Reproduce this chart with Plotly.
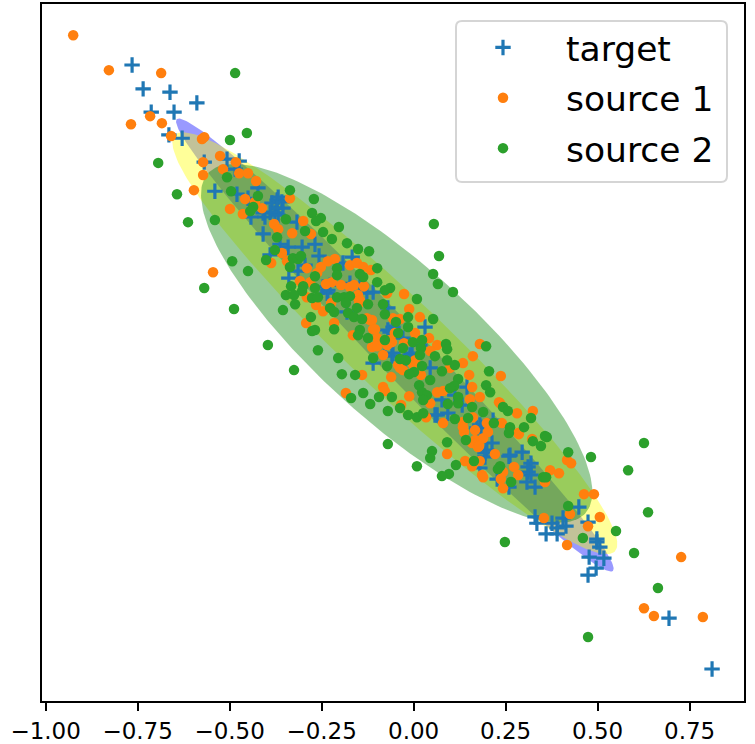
import numpy as np
import plotly.graph_objects as go

target_x = [-.765, -.735, -.662, -.589, -.713, -.651, -.665, -.629, -.569, -.507, -.474, -.485, -.423, -.540, -.480,
            -.450, -.442, -.404, -.409, -.385, -.371, -.377, -.368, -.358, -.371, -.368, -.355, -.409, -.390, -.317,
            -.363, -.341, -.303, -.268, -.257, -.390, -.314, -.339, -.192, -.167, -.235, -.110, -.181, -.246, -.127,
            -.173, .031, -.056, -.064, -.029, -.004, -.110, -.059, .045, .145, .077, .064, .093, .172, .213,
            .262, .194, .216, .180, .058, .199, .194, .259, .295, .319, .311, .319, .308, .330, .227,
            .259, .180, .449, .330, .335, .376, .406, .414, .390, .360, .390, .474, .498, .506, .477,
            .517, .496, .474, .498, .694, .811, .183, .311, -.146, -.023, .112, .132, .017, -.078, -.295,
            -.227, -.070, -.070, -.056, -.010, -.233]
target_y = [.780, .715, .706, .677, .652, .652, .590, .581, .516, .524, .519, .497, .446, .437, .429,
            .418, .367, .367, .321, .405, .413, .378, .421, .408, .391, .372, .391, .378, .380, .353,
            .293, .285, .285, .293, .261, .264, .220, .201, .242, .258, .160, .163, .109, .177, .160,
            .187, .068, .068, .054, .038, -.003, -.030, -.011, -.043, -.095, -.130, -.171, -.166, -.206, -.247,
            -.280, -.274, -.185, -.198, -.171, -.266, -.285, -.283, -.272, -.302, -.326, -.334, -.353, -.367, -.345,
            -.367, -.315, -.421, -.448, -.465, -.465, -.451, -.473, -.478, -.494, -.494, -.462, -.516, -.530, -.557,
            -.560, -.587, -.606, -.508, -.723, -.861, -.204, -.312, .182, -.022, -.117, -.144, .019, .019, .236,
            .182, .120, .060, -.003, -.008, .168]

source1_x = [-.925, -.828, -.686, -.768, -.716, -.684, -.659, -.575, -.569, -.526, -.572, -.483, -.518, -.474, -.450,
             -.572, -.428, -.597, -.458, -.499, -.464, -.431, -.412, -.379, -.368, -.336, -.300, -.330, -.279, -.358,
             -.344, -.387, -.545, -.290, -.252, -.233, -.214, -.262, -.309, -.281, -.238, -.222, -.197, -.173, -.162,
             -.135, -.173, -.154, -.137, -.116, -.290, -.265, -.246, -.224, -.292, -.216, -.165, -.110, -.113, -.151,
             -.148, -.113, -.097, -.127, -.026, -.012, .017, -.072, .004, .042, .064, .045, .180, .161, .134,
             .151, .237, .159, .180, .153, .232, .281, .099, .064, .080, -.061, -.083, -.078, -.012, -.140,
             -.184, -.034, .045, .034, .080, .161, .134, .137, .167, .167, .189, .159, .091, .221, .175,
             .240, .284, -.099, -.099, -.083, -.059, -.072, -.042, -.029, -.002, .020, -.118, -.105, -.151, -.146,
             .324, .286, .322, .417, .428, .371, .395, .357, .463, .490, .425, .354, .506, .474, .417,
             .140, .159, .186, .189, .180, .134, .202, .199, .237, .243, .273, .284, .243, .235, .178,
             .727, .786, .626, .653, -.056, -.037, -.064, -.026, .004, -.037, -.051]
source1_y = [.861, .766, .758, .619, .641, .622, .587, .579, .584, .533, .516, .516, .497, .486, .486,
             .481, .465, .440, .416, .389, .375, .408, .391, .348, .334, .418, .356, .323, .321, .269,
             .247, .242, .217, .228, .231, .247, .253, .215, .193, .190, .185, .190, .182, .177, .182,
             .179, .236, .242, .231, .223, .149, .128, .111, .133, .079, .079, .046, .062, .087, .147,
             .133, .014, .024, .092, .158, .117, .095, .160, .052, .038, .019, .003, .022, -.011, -.030,
             -.062, -.065, -.095, -.122, -.128, -.136, -.166, -.043, -.109, -.106, -.068, -.095, -.106, -.120, -.062,
             -.111, -.144, -.139, -.177, -.193, -.177, -.190, -.217, -.212, -.239, -.234, -.247, -.277, -.277, -.258,
             -.193, -.220, .038, .016, -.008, .027, .019, -.035, -.049, -.033, -.062, .087, .062, .155, .141,
             -.160, -.223, -.236, -.293, -.302, -.321, -.329, -.353, -.386, -.386, -.440, -.451, -.448, -.473, -.524,
             -.296, -.310, -.334, -.340, -.296, -.204, -.217, -.193, -.345, -.370, -.312, -.334, -.326, -.139, -.255,
             -.557, -.720, -.696, -.717, .092, .090, .033, .024, -.022, -.043, .052]

source2_x = [-.485, -.453, -.499, -.694, -.507, -.643, -.496, -.423, -.436, -.444, -.613, -.540, -.371, -.336, -.271,
             -.276, -.252, -.265, -.203, -.347, -.295, -.246, -.222, -.181, -.151, -.121, -.377, -.401, -.493, -.450,
             -.569, -.488, -.396, -.355, -.336, -.328, -.314, -.306, -.268, -.208, -.208, -.333, -.300, -.303, -.347,
             -.325, -.322, -.268, -.276, -.260, -.227, -.216, -.279, -.276, -.268, -.216, -.208, -.189, -.173, -.184,
             -.154, -.124, -.146, -.137, -.099, -.099, -.178, -.162, -.140, -.146, -.151, -.124, -.260, .066, .107,
             .009, .053, -.064, -.078, -.083, -.078, -.015, -.015, -.048, -.042, -.078, -.029, -.002, .023, .020,
             .017, .088, .091, .058, .091, .112, .197, .205, .197, .208, -.110, -.072, -.037, -.021, .023,
             .001, -.012, .077, .045, .015, .023, .036, .026, .121, .110, .099, .121, .093, .121, .159,
             -.159, -.195, -.137, -.170, -.094, -.059, -.118, -.070, -.037, -.015, .009, .026, .112, .148, .189,
             .243, .256, .218, .262, .259, .142, .091, .050, -.070, .045, .319, .300, .357, .362, .324,
             .346, .420, .482, .583, .164, .115, .096, .077, .235, .229, .265, .352, .360, .420, .248,
             .460, .550, .599, .626, .637, .664, .474, -.325, -.205, .009, .055, .069, .053]
source2_y = [.758, .595, .576, .514, .475, .429, .437, .424, .394, .383, .353, .359, .312, .440, .416,
             .378, .364, .356, .340, .361, .329, .326, .307, .296, .280, .274, .277, .250, .247, .220,
             .174, .117, .019, .114, .231, .255, .253, .261, .206, .228, .209, .179, .179, .166, .155,
             .155, .130, .174, .147, .149, .120, .109, .095, .057, .060, .062, .149, .149, .152, .133,
             .120, .130, .212, .204, .228, .190, .106, .095, .090, .060, .046, .038, .005, .185, .163,
             .144, .090, .174, .168, .130, .103, .095, .068, .082, .052, .033, .011, .027, .033, .011,
             -.008, .022, .008, -.011, -.022, -.035, .016, -.052, -.090, -.109, -.016, -.038, -.019, -.022, -.038,
             -.054, -.060, -.052, -.076, -.090, -.109, -.117, -.130, -.073, -.092, -.098, -.122, -.141, -.139, -.149,
             -.062, -.060, -.111, -.125, -.122, -.122, -.141, -.160, -.152, -.171, -.177, -.166, -.182, -.179, -.163,
             -.149, -.160, -.193, -.204, -.220, -.239, -.245, -.269, -.250, -.288, -.179, -.204, -.228, -.231, -.242,
             -.255, -.272, -.285, -.321, -.296, -.307, -.331, -.337, -.310, -.318, -.353, -.340, -.340, -.418, -.516,
             -.505, -.486, -.546, -.247, -.435, -.641, -.774, -.049, -.016, -.310, .348, .261, .212]

tick_values = [-1.0, -0.75, -0.5, -0.25, 0.0, 0.25, 0.5, 0.75]
series_names = ["target", "source 1", "source 2"]

# ellipse parameters: centre x, centre y, semi major, semi minor, angle in degrees
ellipse_colors = ["rgba(0,0,255,0.4)", "rgba(255,255,0,0.4)", "rgba(0,128,0,0.4)"]
ellipse_cx = [-0.051, -0.051, -0.046]
ellipse_cy = [0.019, 0.024, 0.024]
ellipse_a = [0.853, 0.823, 0.690]
ellipse_b = [0.068, 0.129, 0.210]
ellipse_angle = [-46.0, -43.4, -42.0]

W, H = 755, 744
LEFT, RIGHT, TOP, BOTTOM = 42, 744, 4, 701


def paper_x(px):
    return (px - LEFT) / (RIGHT - LEFT)


def paper_y(py):
    return (BOTTOM - py) / (BOTTOM - TOP)


def rounded_box(x0, y0, x1, y1, r):
    # legend frame in paper coordinates, built from pixel sizes
    ax, bx, cx, dx = paper_x(x0), paper_x(x0 + r), paper_x(x1 - r), paper_x(x1)
    ay, by, cy, dy = paper_y(y0), paper_y(y0 + r), paper_y(y1 - r), paper_y(y1)
    return (
        f"M{bx},{ay} L{cx},{ay} Q{dx},{ay} {dx},{by} L{dx},{cy} Q{dx},{dy} {cx},{dy} "
        f"L{bx},{dy} Q{ax},{dy} {ax},{cy} L{ax},{by} Q{ax},{ay} {bx},{ay} Z"
    )


fig = go.Figure()

t = np.linspace(0, 2 * np.pi, 240)
for color, cx, cy, a, b, angle in zip(
    ellipse_colors, ellipse_cx, ellipse_cy, ellipse_a, ellipse_b, ellipse_angle
):
    rad = np.deg2rad(angle)
    fig.add_trace(
        go.Scatter(
            x=cx + a * np.cos(t) * np.cos(rad) - b * np.sin(t) * np.sin(rad),
            y=cy + a * np.cos(t) * np.sin(rad) + b * np.sin(t) * np.cos(rad),
            mode="lines",
            line=dict(width=0),
            fill="toself",
            fillcolor=color,
            showlegend=False,
            hoverinfo="skip",
        )
    )

fig.add_trace(
    go.Scatter(
        x=target_x,
        y=target_y,
        name=series_names[0],
        legendgroup="a",
        mode="markers",
        marker=dict(symbol="cross-thin", size=11, color="#1f77b4", line=dict(width=3.2, color="#1f77b4")),
    )
)
fig.add_trace(
    go.Scatter(
        x=source1_x,
        y=source1_y,
        name=series_names[1],
        legendgroup="b",
        mode="markers",
        marker=dict(size=10.5, color="#ff7f0e"),
    )
)
fig.add_trace(
    go.Scatter(
        x=source2_x,
        y=source2_y,
        name=series_names[2],
        legendgroup="c",
        mode="markers",
        marker=dict(size=10.5, color="#2ca02c"),
    )
)

fig.update_layout(
    width=W,
    height=H,
    margin=dict(l=LEFT, r=W - RIGHT, t=TOP, b=H - BOTTOM, pad=0),
    paper_bgcolor="white",
    plot_bgcolor="white",
    font=dict(family="DejaVu Sans", color="black"),
    legend=dict(
        x=paper_x(440),
        y=paper_y(18.5),
        xanchor="left",
        yanchor="top",
        bgcolor="rgba(0,0,0,0)",
        font=dict(size=34.5),
        itemwidth=116,
        tracegroupgap=2.5,
    ),
    shapes=[
        dict(
            type="path",
            xref="paper",
            yref="paper",
            path=rounded_box(456, 21, 727, 182, 6),
            fillcolor="rgba(255,255,255,0.8)",
            line=dict(color="#d5d5d5", width=2),
        )
    ],
)
fig.update_xaxes(
    range=[-1.0098, 0.8978],
    automargin=False,
    tickvals=tick_values,
    tickformat=".2f",
    ticks="outside",
    ticklen=8,
    tickwidth=2,
    tickcolor="black",
    tickfont=dict(size=23),
    showgrid=False,
    zeroline=False,
    showline=True,
    linecolor="black",
    linewidth=2,
    mirror=True,
)
fig.update_yaxes(
    range=[-0.948, 0.9457],
    automargin=False,
    showticklabels=False,
    ticks="",
    showgrid=False,
    zeroline=False,
    showline=True,
    linecolor="black",
    linewidth=2,
    mirror=True,
)

# the page's default body margin would push the figure out of the window
fig.write_html(
    "out.html",
    config={"displayModeBar": False},
    post_script="document.body.style.margin = '0';",
)
